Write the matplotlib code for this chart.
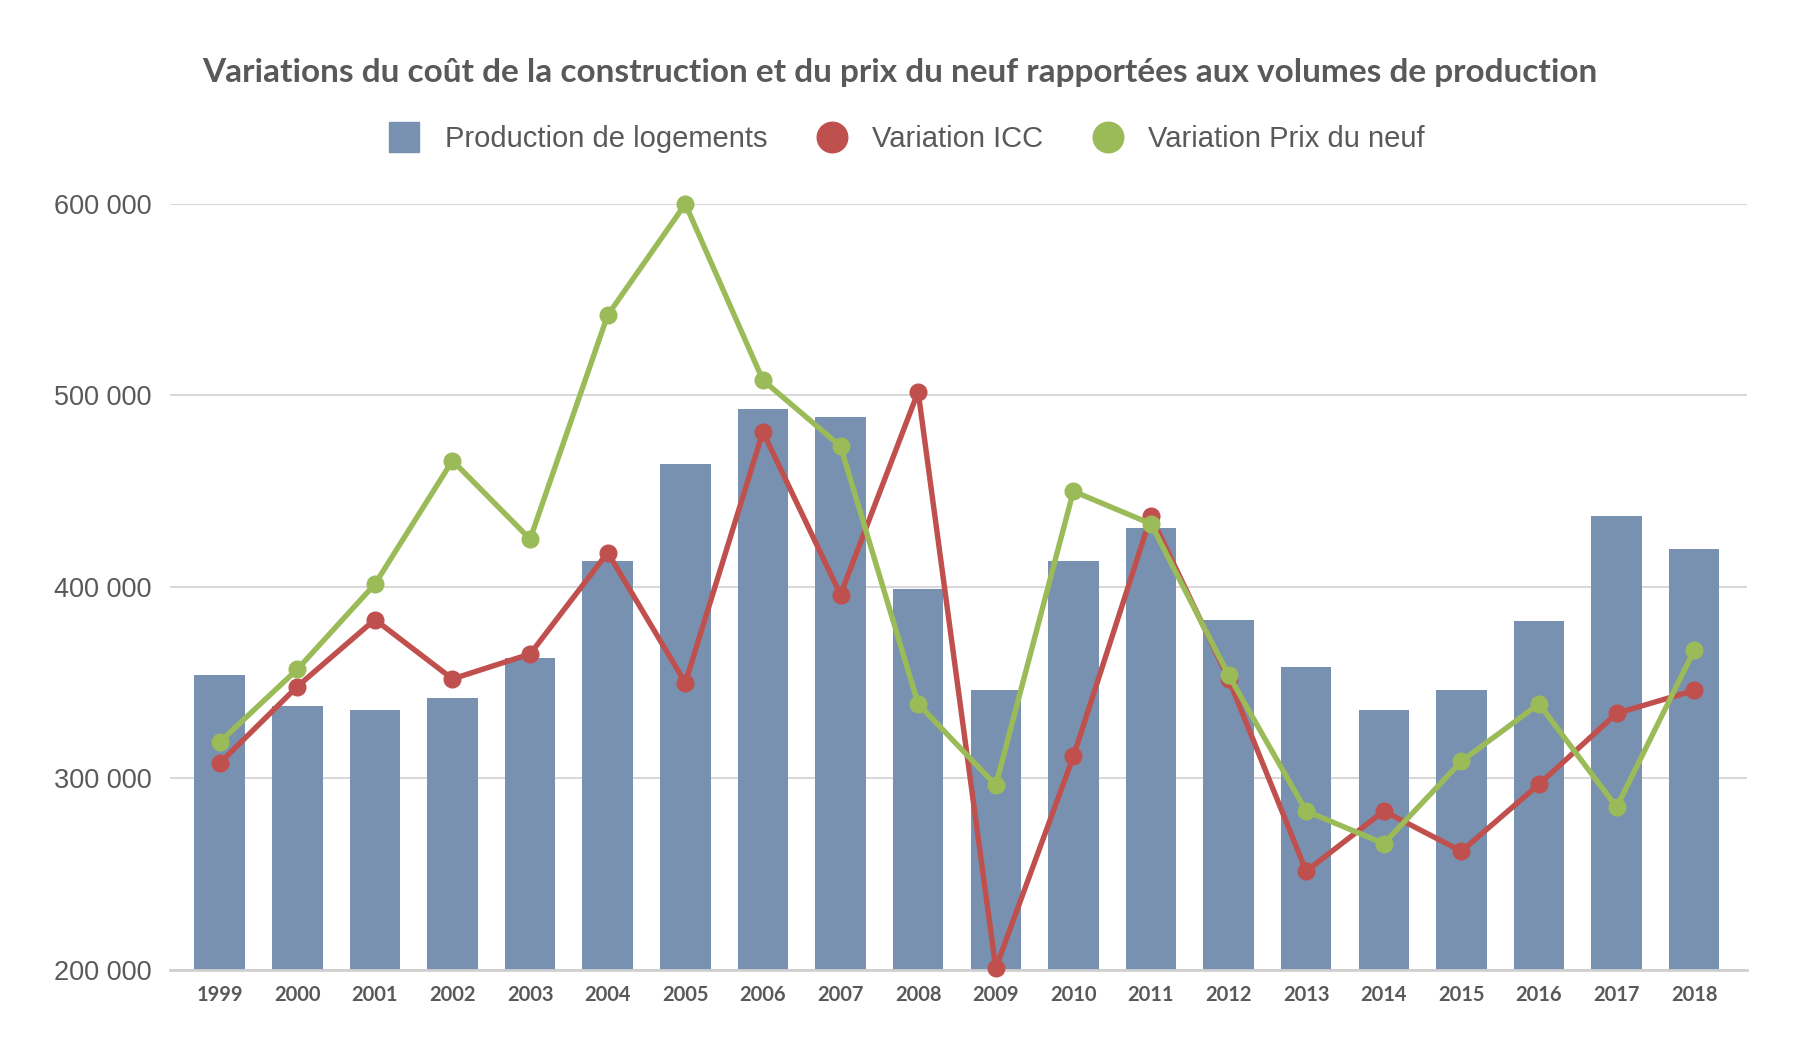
import numpy as np
import matplotlib.pyplot as plt
from matplotlib.lines import Line2D
from matplotlib.ticker import FuncFormatter

years = ['1999', '2000', '2001', '2002', '2003', '2004', '2005', '2006', '2007', '2008',
         '2009', '2010', '2011', '2012', '2013', '2014', '2015', '2016', '2017', '2018']
production = [354000, 338000, 336000, 342000, 363000, 413500, 464000, 493000, 489000, 399000,
              346000, 413500, 431000, 383000, 358000, 336000, 346000, 382000, 437000, 420000]
icc = [308000, 348000, 383000, 352000, 365000, 418000, 350000, 481000, 396000, 502000,
       201000, 311500, 437000, 352000, 251600, 283000, 262000, 297000, 334000, 346000]
prix_neuf = [319000, 357000, 401500, 466000, 425000, 542000, 600000, 508000, 473500, 339000,
             296500, 450000, 433000, 354000, 283000, 266000, 309000, 339000, 285000, 367000]

blue = '#7891b1'
red = '#c0504d'
green = '#9bbb59'
grey_txt = '#595959'

fig = plt.figure(figsize=(18, 10.57), dpi=100)
ax = fig.add_axes([170 / 1800, 1 - 970 / 1057, (1747 - 170) / 1800, (970 - 204) / 1057])

x = np.arange(len(years))
ax.bar(x, production, width=0.65, color=blue, zorder=2)
ax.plot(x, icc, color=red, lw=3.9, marker='o', ms=12, zorder=3, clip_on=False)
ax.plot(x, prix_neuf, color=green, lw=3.9, marker='o', ms=12, zorder=4, clip_on=False)

ax.set_ylim(200000, 600000)
ax.set_xlim(-0.64, 19.68)
ax.set_yticks([200000, 300000, 400000, 500000, 600000])
ax.yaxis.set_major_formatter(FuncFormatter(lambda v, p: '{:,.0f}'.format(v).replace(',', ' ')))
ax.grid(axis='y', color='#d9d9d9', lw=1.5, zorder=0)
ax.set_axisbelow(True)
for s in ['top', 'right', 'left']:
    ax.spines[s].set_visible(False)
ax.spines['bottom'].set_color('#d0d0d0')
ax.spines['bottom'].set_linewidth(2)
ax.tick_params(axis='both', length=0)
ax.tick_params(axis='y', pad=13, labelsize=19.5, labelcolor=grey_txt)
ax.set_xticks(x)
ax.set_xticklabels(years, fontsize=14.5, fontweight='bold', color=grey_txt, family='Lato')
ax.tick_params(axis='x', pad=11)
for t in ax.get_yticklabels():
    t.set_family('Liberation Sans')

fig.text(0.5, 1 - 72 / 1057, 'Variations du coût de la construction et du prix du neuf rapportées aux volumes de production',
         ha='center', va='center', fontsize=24, fontweight='bold', color=grey_txt, family='Lato')

handles = [Line2D([], [], ls='', marker='s', ms=21, color=blue),
           Line2D([], [], ls='', marker='o', ms=22, color=red),
           Line2D([], [], ls='', marker='o', ms=22, color=green)]
labels = ['Production de logements', 'Variation ICC', 'Variation Prix du neuf']
fig.legend(handles, labels, loc='center', bbox_to_anchor=(0.5, 1 - 139 / 1057), ncol=3,
           frameon=False, prop={'family': 'Liberation Sans', 'size': 21}, labelcolor=grey_txt,
           handletextpad=0.4, columnspacing=1.2)

fig.savefig('out.png', dpi=100, facecolor='white')
